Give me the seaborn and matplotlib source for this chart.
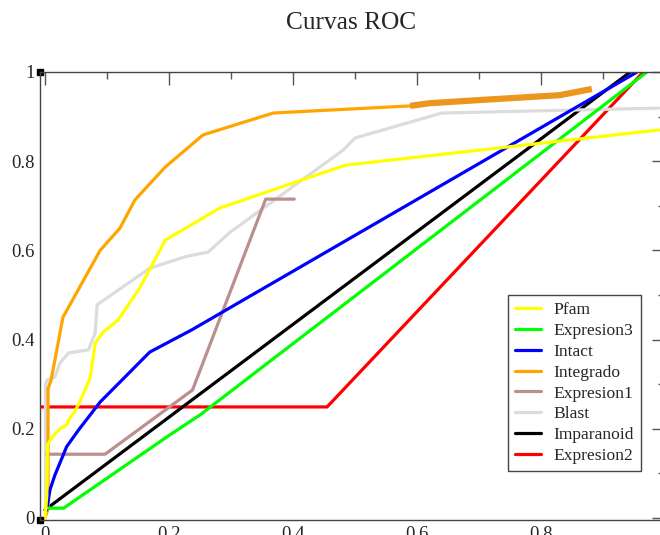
import numpy as np
import pandas as pd
import matplotlib
matplotlib.use("Agg")
import matplotlib.pyplot as plt
import seaborn as sns
from matplotlib.ticker import MultipleLocator

# ROC curves (FPR, TPR)
pfam_x = [0.0, 0.003, 0.004, 0.013, 0.024, 0.035, 0.040, 0.048, 0.056, 0.073, 0.081, 0.094, 0.118, 0.153, 0.194, 0.282, 0.484, 0.99]
pfam_y = [0.0, 0.05, 0.164, 0.184, 0.200, 0.209, 0.224, 0.238, 0.260, 0.314, 0.392, 0.417, 0.444, 0.516, 0.623, 0.695, 0.791, 0.870]

expr3_x = [0.003, 0.030, 0.200, 0.250, 0.492, 0.971]
expr3_y = [0.022, 0.022, 0.185, 0.231, 0.489, 1.0]

intact_x = [0.003, 0.008, 0.016, 0.035, 0.054, 0.089, 0.169, 0.237, 0.955]
intact_y = [0.018, 0.063, 0.096, 0.160, 0.197, 0.260, 0.372, 0.422, 1.0]

integ_x = [0.0, 0.005, 0.005, 0.010, 0.029, 0.089, 0.121, 0.145, 0.194, 0.255, 0.368, 0.589]
integ_y = [0.0, 0.02, 0.29, 0.31, 0.450, 0.600, 0.650, 0.713, 0.787, 0.859, 0.908, 0.924]
integ_tail_x = [0.589, 0.62, 0.70, 0.83, 0.882]
integ_tail_y = [0.924, 0.930, 0.937, 0.948, 0.962]

expr1_x = [0.003, 0.097, 0.238, 0.356, 0.402]
expr1_y = [0.143, 0.143, 0.287, 0.715, 0.715]

blast_x = [0.001, 0.001, 0.003, 0.016, 0.024, 0.038, 0.070, 0.081, 0.084, 0.169, 0.229, 0.263, 0.298, 0.481, 0.500, 0.640, 0.99]
blast_y = [0.02, 0.300, 0.309, 0.316, 0.347, 0.370, 0.377, 0.414, 0.478, 0.560, 0.587, 0.596, 0.640, 0.825, 0.852, 0.908, 0.919]

impar_x = [0.0, 0.944]
impar_y = [0.018, 1.0]

expr2_x = [-0.008, 0.455, 0.965]
expr2_y = [0.249, 0.249, 1.0]

series = [
    ("Pfam", pfam_x, pfam_y, "#FFFF00"),
    ("Expresion3", expr3_x, expr3_y, "#00FF00"),
    ("Intact", intact_x, intact_y, "#0000FF"),
    ("Integrado", integ_x, integ_y, "#FFA500"),
    ("Expresion1", expr1_x, expr1_y, "#BC8F8F"),
    ("Blast", blast_x, blast_y, "#DCDCDC"),
    ("Imparanoid", impar_x, impar_y, "#000000"),
    ("Expresion2", expr2_x, expr2_y, "#FF0000"),
]

sns.set_style("white")
plt.rcParams["font.family"] = ["Liberation Serif", "DejaVu Serif"]

fig = plt.figure(figsize=(6.6, 5.35), dpi=100)
ax = fig.add_axes([40 / 660, 15 / 535, 625 / 660, 448 / 535])

# draw in reverse so the first series sits on top, like the reference
for name, xs, ys, col in reversed(series):
    df = pd.DataFrame({"x": xs, "y": ys})
    sns.lineplot(data=df, x="x", y="y", sort=False, estimator=None,
                 color=col, lw=2.3, ax=ax, label=name)
    if name == "Integrado":
        ax.plot(integ_tail_x, integ_tail_y, color="#EB961E", lw=4.5,
                solid_capstyle="butt")

ax.set_xlim(-0.008, 1.0)
ax.set_ylim(-0.0045, 1.0)
ax.set_xlabel("")
ax.set_ylabel("")
ax.xaxis.set_major_locator(MultipleLocator(0.2))
ax.xaxis.set_minor_locator(MultipleLocator(0.1))
ax.yaxis.set_major_locator(MultipleLocator(0.2))
ax.yaxis.set_minor_locator(MultipleLocator(0.1))
ax.xaxis.set_major_formatter(plt.FuncFormatter(lambda v, p: "%g" % round(v, 2)))
ax.yaxis.set_major_formatter(plt.FuncFormatter(lambda v, p: "%g" % round(v, 2)))
ax.tick_params(which="both", direction="in", top=True, right=True,
               color="#555555", labelsize=13.5, width=1.0)
ax.tick_params(which="major", length=9.5, pad=4)
ax.tick_params(which="minor", length=5)
for s in ax.spines.values():
    s.set_color("#444444")
    s.set_linewidth(1.0)

# small black corner markers
ax.plot([0, 0], [0, 1], "s", color="black", ms=4.5, transform=ax.transAxes,
        clip_on=False)

handles, labels = ax.get_legend_handles_labels()
order = [n for n, *_ in series]
hl = dict(zip(labels, handles))
leg = ax.legend([hl[n] for n in order], order, loc="upper left",
                bbox_to_anchor=(0.749, 0.502), fontsize=12.6, frameon=True,
                fancybox=False, framealpha=1, edgecolor="#444444",
                handlelength=1.45, handletextpad=0.75, labelspacing=0.26,
                borderpad=0.4, borderaxespad=0)
leg.get_frame().set_linewidth(1.0)

fig.text(351 / 660, 1 - 23 / 535, "Curvas ROC", ha="center", va="center",
         fontsize=18.3)

fig.savefig("out.png", dpi=100)
